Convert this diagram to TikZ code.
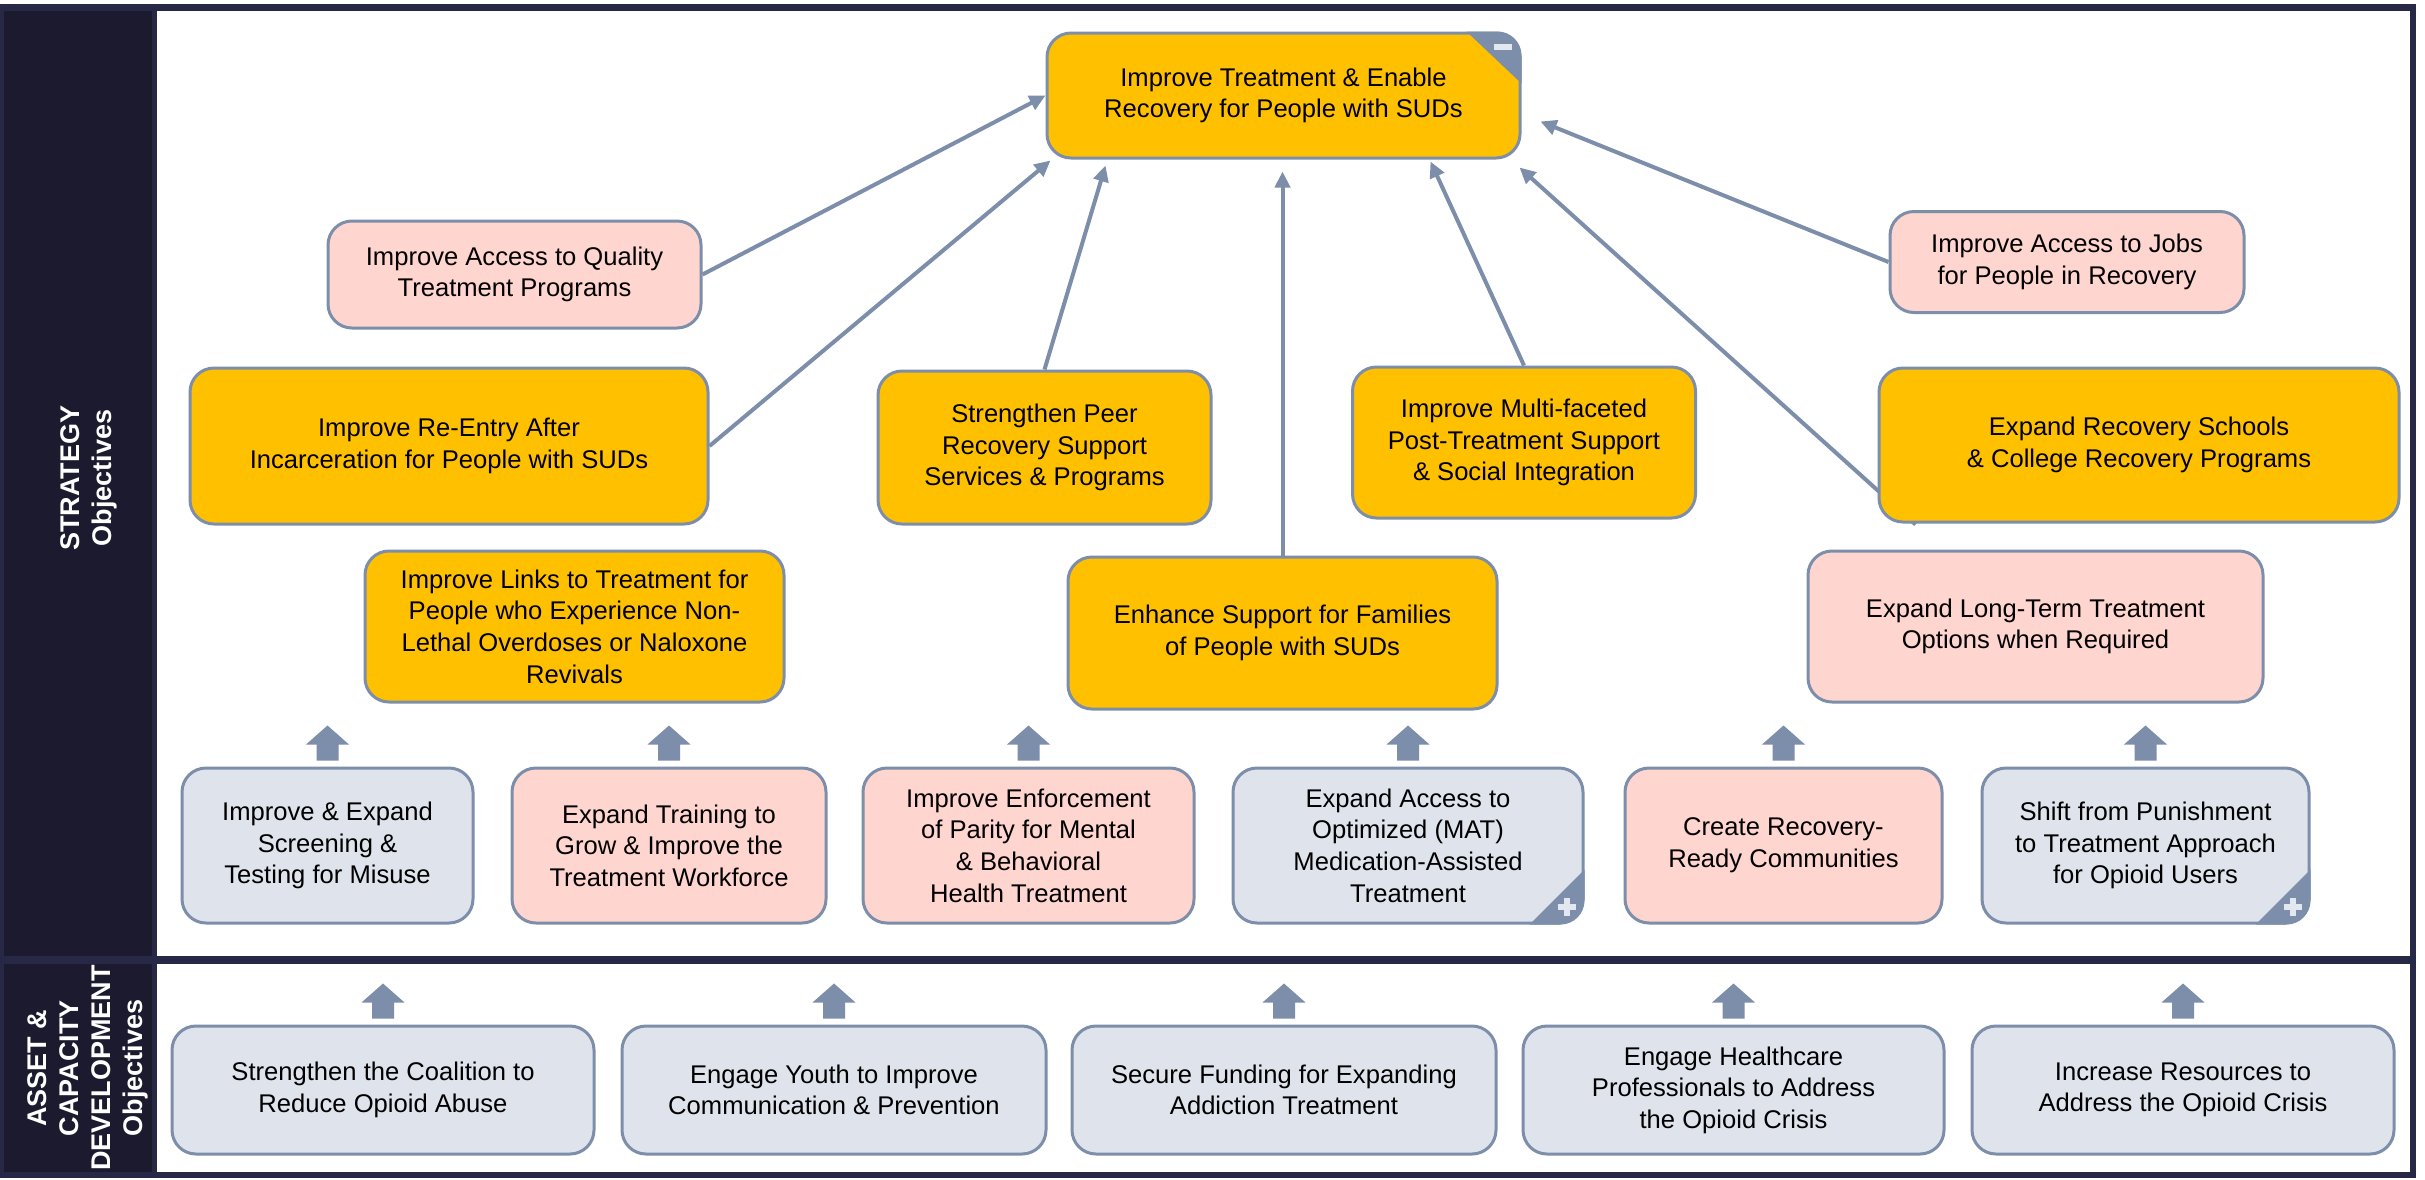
\documentclass[tikz,border=0pt]{standalone}
\usepackage{fontspec}
\setmainfont{Liberation Sans}
\usetikzlibrary{arrows.meta,calc,backgrounds}
\definecolor{frameblue}{HTML}{262845}
\definecolor{bandblue}{HTML}{1C1A2E}
\definecolor{linkblue}{HTML}{7D8EAA}
\definecolor{goalgold}{HTML}{FFC000}
\definecolor{goalpink}{HTML}{FFD5CF}
\definecolor{goalgray}{HTML}{DFE3EC}
\definecolor{signgray}{HTML}{E3E8F0}

\begin{document}
\begin{tikzpicture}[x=0.5pt,y=-0.5pt,
    every node/.style={font=\fontsize{12.8pt}{15.8pt}\selectfont, align=center, inner sep=0pt},
    goal/.style={draw=linkblue, line width=1.5pt, rounded corners=12pt},
    gold/.style={goal, fill=goalgold},
    pink/.style={goal, fill=goalpink},
    grey/.style={goal, fill=goalgray},
    bandtext/.style={text=white, font=\fontsize{13.5pt}{16pt}\selectfont\bfseries, rotate=90},
    link/.style={draw=linkblue, line width=2pt, -{Triangle[length=8pt,width=7.5pt]}},
    lift/.pic={\fill[linkblue] (-11,0) -- (-11,-16) -- (-21.5,-16) -- (0,-35) -- (21.5,-16) -- (11,-16) -- (11,0) -- cycle;},
    minusfold/.pic={\fill[linkblue] (-55,0) [rounded corners=12pt] -- (0,0) [sharp corners] -- (0,52) -- cycle;
                    \fill[signgray] (-28,12) rectangle (-10,18);},
    plusfold/.pic={\fill[linkblue] (-55,0) [rounded corners=12pt] -- (0,0) [sharp corners] -- (0,-55) -- cycle;
                   \fill[signgray] (-27,-21) rectangle (-9,-15);
                   \fill[signgray] (-21,-27) rectangle (-15,-9);}
  ]
  \useasboundingbox (0,0) rectangle (2425,1179);

  \node[gold, minimum width=236.5pt, minimum height=62.5pt] (top) at (1283.5,95.5) {Improve Treatment \& Enable\\Recovery for People with SUDs};
  \pic at (top.north east) {minusfold};

  \node[pink, minimum width=186.5pt, minimum height=53.5pt] (quality) at (514.5,274.5) {Improve Access to Quality\\Treatment Programs};
  \node[pink, minimum width=177pt, minimum height=50.5pt] (jobs) at (2067,262) {Improve Access to Jobs\\for People in Recovery};

  \node[gold, minimum width=259pt, minimum height=78pt] (reentry) at (449,446) {Improve Re-Entry After\\Incarceration for People with SUDs};
  \node[gold, minimum width=166.5pt, minimum height=76.5pt] (peer) at (1044.5,447.5) {Strengthen Peer\\Recovery Support\\Services \& Programs};
  \node[gold, minimum width=171.5pt, minimum height=75.5pt] (multi) at (1524,442.5) {Improve Multi-faceted\\Post-Treatment Support\\\& Social Integration};
  \node[gold, minimum width=260pt, minimum height=77pt] (schools) at (2139,445) {Expand Recovery Schools\\\& College Recovery Programs};

  \node[gold, minimum width=209.5pt, minimum height=75.5pt] (links) at (574.5,626.5) {Improve Links to Treatment for\\People who Experience Non-\\Lethal Overdoses or Naloxone\\Revivals};
  \node[gold, minimum width=214.5pt, minimum height=76pt] (families) at (1282.5,633) {Enhance Support for Families\\of People with SUDs};
  \node[pink, minimum width=227.5pt, minimum height=75.5pt] (longterm) at (2035.5,626.5) {Expand Long-Term Treatment\\Options when Required};

  \node[grey, minimum width=145.5pt, minimum height=77.5pt] (screen) at (327.5,845.5) {Improve \& Expand\\Screening \&\\Testing for Misuse};
  \node[pink, minimum width=157pt, minimum height=77.5pt] (training) at (669,845.5) {Expand Training to\\Grow \& Improve the\\Treatment Workforce};
  \node[pink, minimum width=165.5pt, minimum height=77.5pt] (parity) at (1028.5,845.5) {Improve Enforcement\\of Parity for Mental\\\& Behavioral\\Health Treatment};
  \node[grey, minimum width=175pt, minimum height=77.5pt] (mat) at (1408,845.5) {Expand Access to\\Optimized (MAT)\\Medication-Assisted\\Treatment};
  \node[pink, minimum width=158.5pt, minimum height=77.5pt] (ready) at (1783.5,845.5) {Create Recovery-\\Ready Communities};
  \node[grey, minimum width=163.5pt, minimum height=77.5pt] (shift) at (2145.5,845.5) {Shift from Punishment\\to Treatment Approach\\for Opioid Users};
  \pic at (mat.south east) {plusfold};
  \pic at (shift.south east) {plusfold};

  \node[grey, minimum width=211pt, minimum height=64pt] (coalition) at (383,1090) {Strengthen the Coalition to\\Reduce Opioid Abuse};
  \node[grey, minimum width=212pt, minimum height=64pt] (youth) at (834,1090) {Engage Youth to Improve\\Communication \& Prevention};
  \node[grey, minimum width=212pt, minimum height=64pt] (funding) at (1284,1090) {Secure Funding for Expanding\\Addiction Treatment};
  \node[grey, minimum width=210.5pt, minimum height=64pt] (health) at (1733.5,1090) {Engage Healthcare\\Professionals to Address\\the Opioid Crisis};
  \node[grey, minimum width=211pt, minimum height=64pt] (resources) at (2183,1090) {Increase Resources to\\Address the Opioid Crisis};

  \foreach \b in {screen,training,parity,mat,ready,shift,coalition,youth,funding,health,resources}
    \pic at ($(\b.north)+(0,-6)$) {lift};

  \node[bandtext] (strategy) at (89,478) {STRATEGY\\Objectives};
  \node[bandtext] (assets) at (88,1068) {ASSET \&\\CAPACITY\\DEVELOPMENT\\Objectives};

  \begin{pgfonlayer}{background}
    \fill[frameblue] (0,4) rectangle (2416,1178);
    \fill[bandblue] (4,11) rectangle (152,956);
    \fill[bandblue] (4,964) rectangle (152,1172);
    \fill[white] (157,11) rectangle (2410,956);
    \fill[white] (157,964) rectangle (2410,1172);
    \draw[link] (quality.east) -- (top.west);
    \draw[link] (reentry.east) -- ($(top.south west)+(5,1)$);
    \draw[link] (peer.north) -- ($(top.south west)+(60,6)$);
    \draw[link] (families.north) -- ($(families.north |- top.south)+(0,12)$);
    \draw[link] (multi.north) -- ($(top.south east)+(-91,2)$);
    \draw[link] ($(schools.south west)+(38,1)$) -- ($(top.south east)+(-2,8)$);
    \draw[link] (jobs.west) -- ($(top.east)+(19,26)$);
  \end{pgfonlayer}
\end{tikzpicture}
\end{document}
